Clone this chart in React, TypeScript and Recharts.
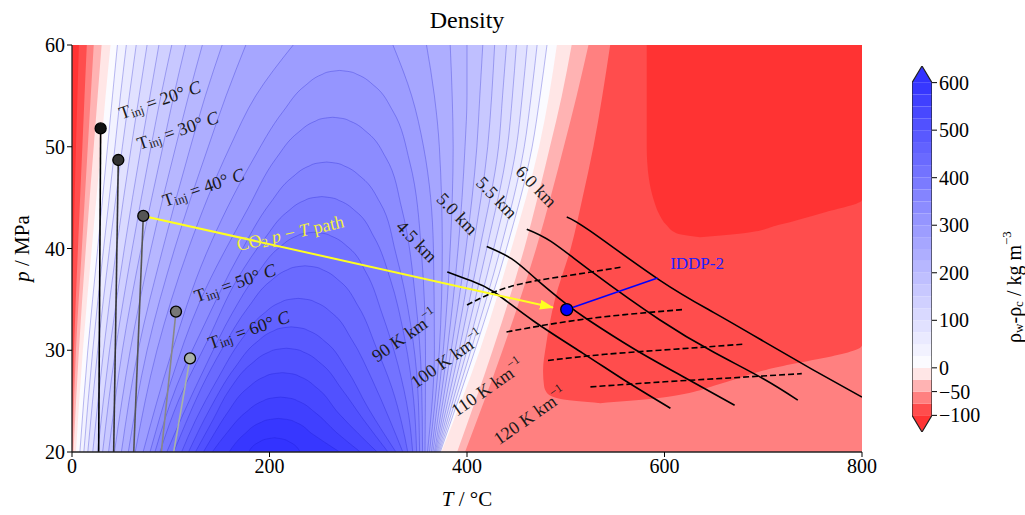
import React from 'react';
import { ComposedChart, Area, Line, XAxis, YAxis, ReferenceDot } from 'recharts';

const SERIF = '"Liberation Serif", "DejaVu Serif", serif';

const X_TICKS = [0, 200, 400, 600, 800];
const Y_TICKS = [20, 30, 40, 50, 60];

// pressures (MPa) at which the long contour legs were read
const P_GRID = [20, 30, 40, 50, 55, 60];

// contour levels (kg m^-3) that run from the bottom edge to the top edge
const OUTER_LEVELS = [-50, -25, 0, 25, 50, 75, 100, 125, 150, 175, 200, 225, 250, 275];
// T (°C) of the left leg of each level at P_GRID
const OUTER_LEFT = [
  [0.5, 4, 10, 16, 19, 22],
  [1.5, 7, 14, 22, 26, 30],
  [4, 11, 20, 29.5, 34, 39],
  [8, 16, 26, 36, 41, 46],
  [12, 21, 32, 43.5, 49, 55],
  [16, 26, 38, 51, 58, 65],
  [21, 32, 45, 60, 68, 76],
  [26, 38, 53, 70, 79, 88],
  [31, 44, 61, 80, 90, 101],
  [37, 51, 70, 92, 103, 115],
  [43, 59, 80, 105, 118, 132],
  [50, 67, 92, 120, 135, 152],
  [57, 76, 104, 138, 156, 176],
  [64, 86, 118, 160, 186, 224],
];
// T (°C) of the right leg of each level at P_GRID
const OUTER_RIGHT = [
  [398, 436, 470, 498, 511, 523],
  [390, 426, 458, 484, 496, 506],
  [374, 413, 445, 473, 483, 491],
  [373, 408, 440, 466, 474, 481],
  [372, 404, 434, 458, 465, 471],
  [371, 400, 427, 450, 456, 461],
  [370, 396, 420, 441, 446, 450],
  [369, 392, 413, 432, 436, 440],
  [368, 388, 406, 421, 425, 428],
  [367, 384, 399, 410, 413, 416],
  [365.5, 380, 391, 398, 400, 400],
  [364, 376, 383, 386, 385, 383],
  [362, 372, 375, 372, 367, 359],
  [360, 367, 366, 356, 344, 325],
];

// red strip along T = 0: levels and their right edge at P_GRID
const EDGE_LEVELS = [-75, -100];
const EDGE_RIGHT = [
  [0, 2, 6, 10.5, 12.7, 15],
  [0, 0, 1.5, 4, 5.5, 7],
];

// region below -75 right of the transition
const SUB75_P = [24.8, 25.2, 25.8, 26.5, 28, 30.5, 35, 40, 45, 50, 55, 60];
const SUB75_LEFT = [535, 495, 481, 478, 477, 480, 489, 505, 517, 528, 537, 545];
const SUB75_RIGHT = [535, 585, 625, 650, 700, 800, 800, 800, 800, 800, 800, 800];

// region below -100, top right
const SUB100_P = [41.1, 41.5, 42.3, 43.5, 44.8, 47, 50, 60];
const SUB100_LEFT = [636, 612, 602, 594, 589, 584, 582, 582];
const SUB100_RIGHT = [636, 680, 715, 760, 800, 800, 800, 800];

// closed arches, from the outside in
const ARCH_LEVELS = [300, 325, 350, 375, 400, 425, 450, 475, 500, 525, 550, 575, 600];
const ARCH_P = [
  [20, 29.5, 39.5, 48.5, 53.5, 56, 57.1, 57.38, 57.5],
  [20, 26.9, 34.9, 43.9, 48.9, 51.4, 52.5, 52.78, 52.9],
  [20, 26.5, 32.5, 39.5, 44.5, 47, 48.1, 48.38, 48.5],
  [20, 25.1, 31.1, 37.1, 41.1, 43.6, 44.7, 44.98, 45.1],
  [20, 23.6, 28.6, 33.6, 37.6, 40.1, 41.2, 41.48, 41.6],
  [20, 22.8, 26.3, 30.3, 34.3, 36.8, 37.9, 38.18, 38.3],
  [20, 23.1, 27.1, 31.1, 33.6, 34.7, 34.98, 35.1],
  [20, 24.3, 28.3, 30.8, 31.9, 32.18, 32.3],
  [20, 23.2, 26.2, 28.7, 29.8, 30.08, 30.2],
  [20, 21.8, 23.8, 26.3, 27.4, 27.68, 27.8],
  [20, 21.9, 23.9, 25, 25.28, 25.4],
  [20, 21.8, 22.9, 23.18, 23.3],
  [20, 21, 21.28, 21.4],
];
const ARCH_LEFT = [
  [72, 100, 136, 182, 214, 236, 253, 261, 271],
  [79, 100, 130, 178, 207, 229, 246, 254, 264],
  [84, 106, 134, 170, 201, 223, 240, 248, 258],
  [89, 108, 138, 168, 196, 218, 235, 243, 253],
  [96, 112, 136, 162, 188, 210, 227, 235, 245],
  [103, 115, 131, 153, 179, 201, 218, 226, 236],
  [111, 125, 147, 172, 194, 211, 219, 229],
  [118, 140, 165, 187, 204, 212, 222],
  [125, 143, 160, 182, 199, 207, 217],
  [133, 144, 157, 178, 195, 203, 213],
  [142, 157, 176, 193, 201, 211],
  [159, 175, 191, 199, 209],
  [179, 190, 197, 205],
];
const ARCH_RIGHT = [
  [357.5, 358, 354, 342, 325, 306, 289, 281, 271],
  [355, 354, 348, 334, 318, 299, 282, 274, 264],
  [352, 350, 343, 328, 312, 293, 276, 268, 258],
  [349, 346, 337, 322, 306, 288, 271, 263, 253],
  [345, 341, 330, 314, 298, 280, 263, 255, 245],
  [340, 334, 324, 308, 290, 271, 254, 246, 236],
  [335, 322, 304, 283, 264, 247, 239, 229],
  [328, 300, 277, 257, 240, 232, 222],
  [320, 295, 273, 252, 235, 227, 217],
  [309, 290, 270, 248, 231, 223, 213],
  [292, 268, 246, 229, 221, 211],
  [271, 243, 227, 219, 209],
  [231, 220, 213, 205],
];

// injection temperatures: foot of the line at 20 MPa, and the dot
const TINJ = [20, 30, 40, 50, 60];
const TINJ_FOOT = [27, 42.2, 62.5, 90.5, 103];
const TINJ_DOT_T = [29, 46.9, 72.2, 105.3, 119.5];
const TINJ_DOT_P = [51.8, 48.7, 43.2, 33.8, 29.2];
const TINJ_LABEL = [[89, 54.6], [107, 51.6], [133, 46.0], [165, 36.6], [179, 32.0]];

// depth isolines (T, p)
const DEPTHS = ['4.5', '5.0', '5.5', '6.0'];
const DEPTH_LINES = [
  [[380, 37.7], [405, 36.8], [427, 35.75], [467, 32.9], [517.5, 29.7], [562, 26.9], [606, 24.3]],
  [[420, 40.2], [445, 39.0], [470, 37.0], [501, 34.5], [521, 33.1], [568, 30.2], [619, 27.4], [671, 24.6]],
  [[460.5, 41.9], [485, 40.7], [528, 37.6], [595, 33.0], [650, 29.8], [700, 27.2], [735, 25.1]],
  [[501, 43.1], [525, 41.7], [595, 36.9], [650, 33.7], [700, 30.9], [750, 28.1], [800, 25.4]],
];
const DEPTH_LABEL = [[349, 40.7], [390, 43.4], [430, 45.0], [470, 46.1]];

// geothermal gradient lines (T, p)
const GRADS = [90, 100, 110, 120];
const GRAD_LINES = [
  [[400, 34.45], [443.5, 36.25], [500, 37.3], [558, 38.2]],
  [[440, 31.8], [500, 32.8], [560, 33.5], [619, 34.0]],
  [[482, 29.0], [540, 29.6], [610, 30.1], [680, 30.6]],
  [[525, 26.4], [600, 26.9], [670, 27.3], [739, 27.7]],
];
const GRAD_LABEL = [[337, 31.4], [380, 29.1], [421, 26.3], [464, 23.5]];

// CO2 path and IDDP-2 well
const CO2_PATH = [[72.2, 43.2], [487, 34.2]];
const CO2_LABEL = [221, 41.5];
const IDDP = [501, 34.0];
const IDDP_LEADER = [[501, 34.0], [593, 37.1]];
const IDDP_LABEL = [633, 38.5];

// colour bar levels and labelled ticks
const CB_LEVELS = [-100, -75, -50, -25, 0, 25, 50, 75, 100, 125, 150, 175, 200, 225, 250, 275, 300, 325, 350, 375, 400, 425, 450, 475, 500, 525, 550, 575];
const CB_TICKS = [-100, -50, 0, 100, 200, 300, 400, 500, 600];

// colour of the band [lo, lo + 25] (bwr reversed, alpha 0.8 on white)
const band = (lo: number): string => {
  let r = 1, g = 1, b = 1;
  if (lo < -100) { r = 1; g = 0; b = 0; }
  else if (lo >= 600) { r = 0; g = 0; b = 1; }
  else {
    const mid = lo + 12.5;
    if (mid < 0) { const s = (mid + 100) / 100; r = 1; g = s; b = s; }
    else { const s = 1 - mid / 600; r = s; g = s; b = 1; }
  }
  const c = (v: number) => Math.round(255 * (0.2 + 0.8 * v));
  return `rgb(${c(r)},${c(g)},${c(b)})`;
};

const toRange = (ps: number[], lo: number[], hi: number[]) => ps.map((p, i) => ({ p, r: [lo[i], hi[i]] }));
const toPts = (pts: number[][]) => pts.map(([T, p]) => ({ T, p }));

const CONTOUR = 'rgba(25,25,205,0.42)';

const RotText = ({ cx, cy, angle, color = '#1a1a1a', size = 16, children }: any) => (
  <text
    x={cx}
    y={cy}
    transform={`rotate(${angle} ${cx} ${cy})`}
    textAnchor="middle"
    dominantBaseline="central"
    fontFamily={SERIF}
    fontSize={size}
    fill={color}
  >
    {children}
  </text>
);

function DensityChart() {
  const areas: any[] = [];
  areas.push({ key: 'bg', data: toRange([20, 60], [0, 0], [800, 800]), fill: band(-75), stroke: 'none' });
  areas.push({ key: 'sub75', data: toRange(SUB75_P, SUB75_LEFT, SUB75_RIGHT), fill: band(-100), stroke: 'none' });
  areas.push({ key: 'sub100', data: toRange(SUB100_P, SUB100_LEFT, SUB100_RIGHT), fill: band(-125), stroke: 'none' });
  EDGE_LEVELS.forEach((lvl, i) => {
    areas.push({ key: `edge${lvl}`, data: toRange(P_GRID, P_GRID.map(() => 0), EDGE_RIGHT[i]), fill: band(lvl - 25), stroke: 'none' });
  });
  OUTER_LEVELS.forEach((lvl, i) => {
    areas.push({ key: `o${lvl}`, data: toRange(P_GRID, OUTER_LEFT[i], OUTER_RIGHT[i]), fill: band(lvl), stroke: lvl > 0 ? CONTOUR : 'none' });
  });
  ARCH_LEVELS.forEach((lvl, i) => {
    areas.push({ key: `a${lvl}`, data: toRange(ARCH_P[i], ARCH_LEFT[i], ARCH_RIGHT[i]), fill: band(lvl), stroke: CONTOUR });
  });

  const tickStyle = { fontSize: 20, fill: '#000', fontFamily: SERIF };

  return (
    <ComposedChart layout="vertical" width={880} height={515} margin={{ top: 45, right: 18, bottom: 33, left: 12 }}>
      <defs>
        <marker id="co2Arrow" markerWidth="14" markerHeight="10" refX="13" refY="5" orient="auto" markerUnits="userSpaceOnUse">
          <path d="M0,0 L14,5 L0,10 z" fill="#ffff20" />
        </marker>
      </defs>
      <XAxis
        type="number"
        domain={[0, 800]}
        ticks={X_TICKS}
        interval={0}
        allowDataOverflow
        height={30}
        tick={tickStyle}
        tickSize={5}
        tickLine={{ stroke: '#000' }}
        axisLine={{ stroke: '#222', strokeWidth: 1.3 }}
        label={({ viewBox }: any) => (
          <text x={viewBox.x + viewBox.width / 2} y={viewBox.y + 54} textAnchor="middle" fontFamily={SERIF} fontSize={21} fill="#000">
            <tspan fontStyle="italic">T</tspan> / °C
          </text>
        )}
      />
      <YAxis
        type="number"
        dataKey="p"
        domain={[20, 60]}
        ticks={Y_TICKS}
        interval={0}
        reversed
        allowDataOverflow
        width={60}
        tick={tickStyle}
        tickSize={5}
        tickLine={{ stroke: '#000' }}
        axisLine={{ stroke: '#222', strokeWidth: 1.3 }}
        label={({ viewBox }: any) => {
          const x = viewBox.x + 10;
          const y = viewBox.y + viewBox.height / 2;
          return (
            <text x={x} y={y} transform={`rotate(-90 ${x} ${y})`} textAnchor="middle" dominantBaseline="central" fontFamily={SERIF} fontSize={21} fill="#000">
              <tspan fontStyle="italic">p</tspan> / MPa
            </text>
          );
        }}
      />
      <XAxis xAxisId="top" orientation="top" type="number" domain={[0, 800]} height={0} tick={false} tickLine={false} axisLine={{ stroke: '#222', strokeWidth: 1.3 }} />
      <YAxis yAxisId="right" orientation="right" type="number" domain={[20, 60]} width={0} tick={false} tickLine={false} axisLine={{ stroke: '#222', strokeWidth: 1.3 }} />

      {areas.map((a) => (
        <Area
          key={a.key}
          data={a.data}
          dataKey="r"
          type="monotone"
          fill={a.fill}
          fillOpacity={1}
          stroke={a.stroke}
          strokeWidth={0.7}
          dot={false}
          activeDot={false}
          isAnimationActive={false}
        />
      ))}

      {TINJ.map((t, i) => (
        <Line
          key={`tl${t}`}
          data={[{ T: TINJ_FOOT[i], p: 20 }, { T: TINJ_DOT_T[i], p: TINJ_DOT_P[i] }]}
          dataKey="T"
          type="linear"
          stroke={['#000', '#333', '#555', '#888', '#a9b3a9'][i]}
          strokeWidth={1.6}
          dot={false}
          activeDot={false}
          isAnimationActive={false}
        />
      ))}

      {DEPTH_LINES.map((pts, i) => (
        <Line key={`d${i}`} data={toPts(pts)} dataKey="T" type="natural" stroke="#000" strokeWidth={1.6} dot={false} activeDot={false} isAnimationActive={false} />
      ))}
      {GRAD_LINES.map((pts, i) => (
        <Line key={`g${i}`} data={toPts(pts)} dataKey="T" type="natural" stroke="#000" strokeWidth={1.6} strokeDasharray="6 3" dot={false} activeDot={false} isAnimationActive={false} />
      ))}

      <Line data={toPts(CO2_PATH)} dataKey="T" type="linear" stroke="#ffff20" strokeWidth={2} markerEnd="url(#co2Arrow)" dot={false} activeDot={false} isAnimationActive={false} />
      <Line data={toPts(IDDP_LEADER)} dataKey="T" type="linear" stroke="#0000ff" strokeWidth={1.6} dot={false} activeDot={false} isAnimationActive={false} />

      {TINJ.map((t, i) => (
        <ReferenceDot key={`td${t}`} x={TINJ_DOT_T[i]} y={TINJ_DOT_P[i]} r={5.5} fill={['#111', '#333', '#555', '#777', '#aab2aa'][i]} stroke="#000" strokeWidth={1.3} />
      ))}
      <ReferenceDot x={IDDP[0]} y={IDDP[1]} r={6} fill="#0000ff" stroke="#000" strokeWidth={1.3} />

      {TINJ.map((t, i) => (
        <ReferenceDot
          key={`tt${t}`}
          x={TINJ_LABEL[i][0]}
          y={TINJ_LABEL[i][1]}
          r={0}
          shape={(p: any) => (
            <RotText cx={p.cx} cy={p.cy} angle={-19} size={18}>
              <tspan>T</tspan>
              <tspan fontSize={12.5} dy={4}>inj</tspan>
              <tspan dy={-4}>{` = ${t}° `}</tspan>
              <tspan fontStyle="italic">C</tspan>
            </RotText>
          )}
        />
      ))}
      {DEPTHS.map((d, i) => (
        <ReferenceDot
          key={`dt${d}`}
          x={DEPTH_LABEL[i][0]}
          y={DEPTH_LABEL[i][1]}
          r={0}
          shape={(p: any) => <RotText cx={p.cx} cy={p.cy} angle={46} size={18}>{`${d} km`}</RotText>}
        />
      ))}
      {GRADS.map((g, i) => (
        <ReferenceDot
          key={`gt${g}`}
          x={GRAD_LABEL[i][0]}
          y={GRAD_LABEL[i][1]}
          r={0}
          shape={(p: any) => (
            <RotText cx={p.cx} cy={p.cy} angle={-35} size={18}>
              <tspan>{`${g} K km`}</tspan>
              <tspan fontSize={12} dy={-7}>−1</tspan>
            </RotText>
          )}
        />
      ))}
      <ReferenceDot
        x={CO2_LABEL[0]}
        y={CO2_LABEL[1]}
        r={0}
        shape={(p: any) => (
          <RotText cx={p.cx} cy={p.cy} angle={-12.7} size={18} color="#f4f040">
            <tspan>CO</tspan>
            <tspan fontSize={12.5} dy={4}>2</tspan>
            <tspan dy={-4}>{'  '}</tspan>
            <tspan fontStyle="italic">p</tspan>
            <tspan> − </tspan>
            <tspan fontStyle="italic">T</tspan>
            <tspan> path</tspan>
          </RotText>
        )}
      />
      <ReferenceDot
        x={IDDP_LABEL[0]}
        y={IDDP_LABEL[1]}
        r={0}
        shape={(p: any) => <RotText cx={p.cx} cy={p.cy} angle={0} size={17} color="#2020ff">IDDP-2</RotText>}
      />
    </ComposedChart>
  );
}

function ColorBar() {
  const pos = [...CB_LEVELS, 600];
  const tickIdx = CB_TICKS.map((v) => pos.indexOf(v));
  const n = CB_LEVELS.length;
  const ext = 1.4;
  // outline of the bar with its two extension tips, in (x, band index) units
  const outline = [
    { x: 0.5, p: -ext }, { x: 1, p: 0 }, { x: 1, p: n }, { x: 0.5, p: n + ext },
    { x: 0, p: n }, { x: 0, p: 0 }, { x: 0.5, p: -ext },
  ];
  return (
    <ComposedChart layout="vertical" width={145} height={515} margin={{ top: 66, right: 33, bottom: 83, left: 32 }}>
      <XAxis type="number" domain={[0, 1]} allowDataOverflow hide />
      <YAxis
        orientation="right"
        type="number"
        dataKey="p"
        reversed
        domain={[-ext, n + ext]}
        allowDataOverflow
        ticks={tickIdx}
        interval={0}
        tickFormatter={(v: number) => {
          const val = pos[v];
          return val < 0 ? `−${Math.abs(val)}` : `${val}`;
        }}
        width={60}
        tick={{ fontSize: 20, fill: '#000', fontFamily: SERIF }}
        tickSize={5}
        tickLine={{ stroke: '#000' }}
        axisLine={false}
        label={({ viewBox }: any) => {
          const x = viewBox.x + viewBox.width + 22;
          const y = viewBox.y + viewBox.height / 2 + 38;
          return (
            <text x={x} y={y} transform={`rotate(-90 ${x} ${y})`} textAnchor="middle" dominantBaseline="central" fontFamily={SERIF} fontSize={20} fill="#000">
              <tspan>ρ</tspan>
              <tspan fontSize={13} dy={4}>w</tspan>
              <tspan dy={-4}>-ρ</tspan>
              <tspan fontSize={13} dy={4}>c</tspan>
              <tspan dy={-4}>{' / kg m'}</tspan>
              <tspan fontSize={13} dy={-8}>−3</tspan>
            </text>
          );
        }}
      />
      {CB_LEVELS.map((lvl, i) => (
        <Area
          key={lvl}
          data={[{ p: i, r: [0, 1] }, { p: i + 1, r: [0, 1] }]}
          dataKey="r"
          type="linear"
          fill={band(lvl)}
          fillOpacity={1}
          stroke="none"
          dot={false}
          activeDot={false}
          isAnimationActive={false}
        />
      ))}
      <Area
        data={[{ p: -ext, r: [0.5, 0.5] }, { p: 0, r: [0, 1] }]}
        dataKey="r"
        type="linear"
        fill={band(-125)}
        fillOpacity={1}
        stroke="none"
        dot={false}
        activeDot={false}
        isAnimationActive={false}
      />
      <Area
        data={[{ p: n, r: [0, 1] }, { p: n + ext, r: [0.5, 0.5] }]}
        dataKey="r"
        type="linear"
        fill={band(600)}
        fillOpacity={1}
        stroke="none"
        dot={false}
        activeDot={false}
        isAnimationActive={false}
      />
      <Line data={outline} dataKey="x" type="linear" stroke="#222" strokeWidth={1.2} dot={false} activeDot={false} isAnimationActive={false} />
    </ComposedChart>
  );
}

export default function App() {
  return (
    <div style={{ position: 'absolute', left: 0, top: 0, width: 1025, height: 515, background: '#fff', overflow: 'hidden' }}>
      <div style={{ position: 'absolute', left: 72, width: 790, top: 7, textAlign: 'center', fontSize: 24, fontFamily: SERIF, color: '#000' }}>
        Density
      </div>
      <div style={{ position: 'absolute', left: 0, top: 0 }}>
        <DensityChart />
      </div>
      <div style={{ position: 'absolute', left: 880, top: 0 }}>
        <ColorBar />
      </div>
    </div>
  );
}
